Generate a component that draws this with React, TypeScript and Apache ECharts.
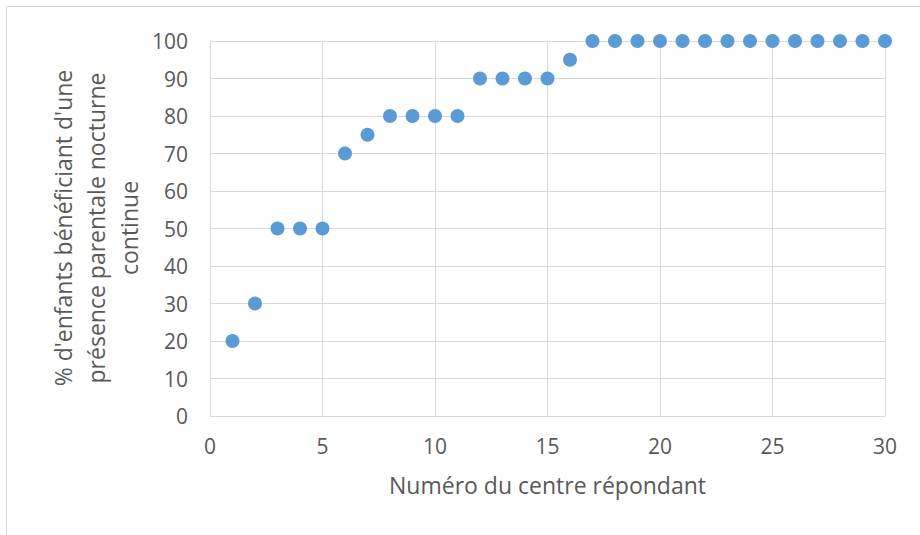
import React, { useEffect, useRef } from "react";
import * as echarts from "echarts";

const centres: number[] = Array.from({ length: 30 }, (_, i) => i + 1);
const pourcentages: number[] = [
  20, 30, 50, 50, 50, 70, 75, 80, 80, 80, 80, 90, 90, 90, 90, 95,
  100, 100, 100, 100, 100, 100, 100, 100, 100, 100, 100, 100, 100, 100,
];
const xTitle = "Numéro du centre répondant";
const yTitle = "% d'enfants bénéficiant d'une\nprésence parentale nocturne\ncontinue";

const FONT = "'Open Sans', 'Noto Sans', sans-serif";

export default function App() {
  const ref = useRef<HTMLDivElement>(null);
  useEffect(() => {
    if (!ref.current) return;
    const chart = echarts.init(ref.current, null, { renderer: "svg" });
    chart.setOption({
      animation: false,
      backgroundColor: "#ffffff",
      textStyle: { fontFamily: FONT },
      grid: { left: 210, right: 35, top: 41, bottom: 119 },
      xAxis: {
        type: "value",
        min: 0,
        max: 30,
        interval: 5,
        name: xTitle,
        nameLocation: "middle",
        nameGap: 57,
        nameTextStyle: { fontSize: 23, color: "#595959", fontFamily: FONT },
        axisLine: { show: true, lineStyle: { color: "#d9d9d9", width: 1 } },
        axisTick: { show: false },
        axisLabel: { fontSize: 21, color: "#595959", margin: 19, fontFamily: FONT },
        splitLine: { show: true, lineStyle: { color: "#d9d9d9", width: 1 } },
      },
      yAxis: {
        type: "value",
        min: 0,
        max: 100,
        interval: 10,
        axisLine: { show: true, lineStyle: { color: "#d9d9d9", width: 1 } },
        axisTick: { show: false },
        axisLabel: { fontSize: 21, color: "#595959", margin: 22, fontFamily: FONT },
        splitLine: { show: true, lineStyle: { color: "#d9d9d9", width: 1 } },
      },
      graphic: [
        {
          type: "rect",
          shape: { x: 6.5, y: 6.5, width: 1000, height: 1000 },
          style: { fill: "none", stroke: "#d9d9d9", lineWidth: 1 },
          silent: true,
        },
        {
          type: "text",
          x: 96,
          y: 228,
          rotation: Math.PI / 2,
          style: {
            text: yTitle,
            align: "center",
            verticalAlign: "middle",
            fontSize: 23,
            lineHeight: 33,
            fill: "#595959",
            fontFamily: FONT,
          },
        },
      ],
      series: [
        {
          type: "scatter",
          data: centres.map((c, i) => [c, pourcentages[i]]),
          symbol: "circle",
          symbolSize: 14,
          itemStyle: { color: "#5b9bd5", opacity: 1 },
        },
      ],
    });
    return () => chart.dispose();
  }, []);
  return (
    <div
      ref={ref}
      style={{ position: "fixed", left: 0, top: 0, width: 920, height: 535 }}
    />
  );
}
